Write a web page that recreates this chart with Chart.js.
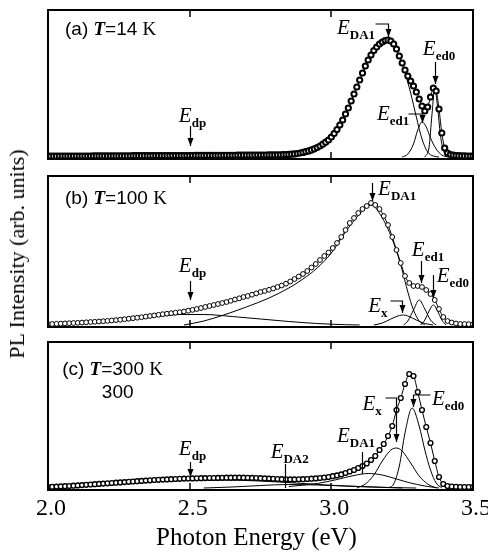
<!DOCTYPE html>
<html><head><meta charset="utf-8">
<script src="https://cdn.jsdelivr.net/npm/chart.js@4.4.1/dist/chart.umd.min.js"></script>
<style>
html,body{margin:0;padding:0;background:#fff;}
#wrap{position:relative;width:488px;height:552px;overflow:hidden;background:#fff;}
.pane{position:absolute;left:0;width:488px;}
#ytitle{position:absolute;left:17px;top:254px;transform:translate(-50%,-50%) rotate(-90deg);font-family:'Liberation Serif','Times New Roman',serif;font-size:22px;white-space:nowrap;color:#000;}
</style></head><body>
<div id="wrap">
<div class="pane" style="top:0;height:170px"><canvas id="ca" width="488" height="170"></canvas></div>
<div class="pane" style="top:170px;height:165px"><canvas id="cb" width="488" height="165"></canvas></div>
<div class="pane" style="top:335px;height:217px"><canvas id="cc" width="488" height="217"></canvas></div>
<div id="ytitle">PL Intensity (arb. units)</div>
</div>
<script>
// ---------- data ----------
const X_MIN = 2.0, X_MAX = 3.5;
const STEP_14K = 0.01;   // sampling of the 14 K spectrum (eV)
const STEP_HI = 0.015;   // sampling of the 100 K / 300 K spectra (eV)
const xTicks = [2.0, 2.5, 3.0, 3.5];
const innerTicks = [2.5, 3.0];
const xTitle = 'Photon Energy (eV)';

// (a) T = 14 K measured PL, 2.00 .. 3.50 eV
const pl14K = [
0.8,0.8,0.8,0.8,0.9,0.9,0.9,0.9,1.0,1.0,
1.0,1.0,1.0,1.0,1.0,1.0,1.1,1.1,1.1,1.1,
1.1,1.1,1.1,1.2,1.2,1.2,1.2,1.2,1.2,1.2,
1.3,1.3,1.3,1.3,1.3,1.3,1.3,1.4,1.4,1.4,
1.4,1.4,1.4,1.4,1.5,1.5,1.5,1.5,1.5,1.5,
1.5,1.5,1.6,1.6,1.6,1.6,1.6,1.6,1.6,1.6,
1.6,1.6,1.7,1.7,1.7,1.7,1.7,1.8,1.8,1.8,
1.8,1.8,1.8,1.9,1.9,1.9,2.0,2.0,2.1,2.1,
2.1,2.1,2.2,2.3,2.4,2.6,2.8,3.1,3.5,4.0,
4.6,5.3,6.1,7.1,8.2,9.5,11.0,12.8,14.8,17.0,
20,23.5,27.5,32,37,43,49,56,63,70,
77,84,91,97,102,106.5,110,113,115,116.5,
117,116,113,108,101,94,87,81,76,71,
65,58,51,46,50,60,69,66,48,24,
9,4,2.5,1.8,1.5,1.3,1.2,1.1,1.0,1.0,1.0
];
// (b) T = 100 K measured PL
const pl100K = [
1,1,1.2,1.4,1.6,1.8,2,2.2,2.4,2.7,
3,3.2,3.5,3.8,4.1,4.5,4.9,5.3,5.8,6.3,
6.8,7.3,7.8,8.4,9,9.6,10.2,10.8,11.3,11.8,
12.3,12.8,13.5,14.3,15.1,16,17,18,19,20,
21,22,23,24.2,25.5,26.7,28,29,30.3,31.6,
33,34,35.2,36.5,38,39.5,41.3,43.5,46,48.5,
51,54,57.5,61,65,69,72.5,77,82,88,
95,102,107,112,116,119,122,120,116,109,
100,88,75,62,49,42,39,39,38,35,
31,25,16,8,4,2.5,1.5,1,1,0.8,
0.8
];
// (c) T = 300 K measured PL
const pl300K = [
1,1.2,1.4,1.6,1.8,2,2.3,2.6,2.9,3.2,
3.5,3.8,4.1,4.4,4.7,5,5.3,5.6,5.9,6.2,
6.5,6.8,7.1,7.4,7.7,8,8.2,8.4,8.6,8.8,
9,9.2,9.4,9.5,9.6,9.7,9.8,9.9,10,10,
10.1,10.2,10.3,10.3,10.4,10.4,10.3,10.2,10.1,10,
9.8,9.6,9.4,9.2,9,8.8,8.7,8.6,8.6,8.7,
8.8,9,9.3,9.6,10,10.5,11,11.8,12.6,13.6,
15,16.5,18,20,22,24.5,28,32,38,44,
52,62,78,90,104,114,112,96,78,61,
45,27,11,4,2,1.5,1.2,1,1,1,
1
];

// fitted components [eV, intensity]
const fit14K_DA1 = [[2.85,2],[2.9,4.5],[2.95,9],[3.0,19],[3.05,42],[3.1,76],[3.15,106],[3.2,115],[3.23,106],[3.26,84],[3.28,64],[3.30,40],[3.32,18],[3.34,5],[3.36,1],[3.38,0]];
const fit14K_ed1 = [[3.25,0],[3.27,3],[3.29,13],[3.305,27],[3.32,35],[3.335,30],[3.35,19],[3.37,8],[3.39,2],[3.41,0]];
const fit14K_ed0 = [[3.33,0],[3.345,10],[3.355,42],[3.365,69],[3.375,50],[3.385,22],[3.395,7],[3.41,0]];

const fit100K_dp  = [[2.0,1],[2.1,2],[2.2,3.5],[2.3,6],[2.4,9],[2.47,10.5],[2.55,10.5],[2.65,8.5],[2.75,6],[2.85,3.5],[2.95,1.5],[3.05,0.3],[3.1,0]];
const fit100K_DA1 = [[2.48,0],[2.55,4],[2.62,10],[2.7,18],[2.78,27],[2.85,37],[2.9,46],[2.95,57],[3.0,72],[3.05,93],[3.1,111],[3.14,120],[3.18,107],[3.22,82],[3.25,55],[3.27,33],[3.29,15],[3.31,4],[3.33,0]];
const fit100K_x   = [[3.15,0],[3.18,2],[3.21,6],[3.24,9.5],[3.255,10],[3.27,9],[3.30,5],[3.33,1.5],[3.36,0]];
const fit100K_ed1 = [[3.255,0],[3.27,4],[3.29,15],[3.31,25],[3.33,16],[3.35,5],[3.37,0]];
const fit100K_ed0 = [[3.315,0],[3.33,5],[3.345,14],[3.36,20],[3.375,14],[3.39,5],[3.405,0]];

const fit300K_dp  = [[2.0,1],[2.15,3],[2.3,5.5],[2.45,7.5],[2.6,8],[2.75,7],[2.9,4.5],[3.05,2],[3.2,0.5],[3.3,0]];
const fit300K_DA2 = [[2.55,0],[2.65,1],[2.75,2.5],[2.85,3.5],[2.95,3],[3.05,2],[3.15,1],[3.25,0]];
const fit300K_DA1 = [[2.85,1.5],[2.95,4.5],[3.02,8.5],[3.08,12.5],[3.13,14.5],[3.18,13],[3.23,9],[3.28,5],[3.33,2],[3.38,0]];
const fit300K_x   = [[3.09,0],[3.12,4],[3.15,13],[3.18,27],[3.21,38],[3.23,40],[3.25,37],[3.28,25],[3.31,12],[3.34,4],[3.37,0]];
const fit300K_ed0 = [[3.20,0],[3.22,4],[3.24,22],[3.26,55],[3.285,80],[3.31,62],[3.33,38],[3.35,18],[3.37,5],[3.39,0]];

// ---------- helpers ----------
const SERIF = "'Liberation Serif','Times New Roman',serif";
const SANS = "'Liberation Sans',Arial,sans-serif";
function toPoints(vals, step){ return vals.map((v,i)=>({x:+(X_MIN+i*step).toFixed(3), y:v})); }
function pairs(arr){ return arr.map(p=>({x:p[0], y:p[1]})); }
function measured(points, r, bw){ return {data:points, showLine:true, borderColor:'#000', borderWidth:1,
  pointRadius:r, pointBorderWidth:bw, pointBorderColor:'#000', pointBackgroundColor:'#fff', cubicInterpolationMode:'monotone'}; }
function fitted(points){ return {data:pairs(points), showLine:true, borderColor:'#000', borderWidth:1,
  pointRadius:0, cubicInterpolationMode:'monotone'}; }

function head(ctx, px, py){
  ctx.beginPath(); ctx.moveTo(px,py); ctx.lineTo(px-3,py-8); ctx.lineTo(px+3,py-8); ctx.closePath(); ctx.fill();
}
function drawE(ctx, px, py, sub, align){
  ctx.textBaseline='alphabetic'; ctx.textAlign='left';
  ctx.font = 'italic 21px '+SERIF; const wE = ctx.measureText('E').width;
  ctx.font = 'bold 13px '+SERIF; const wS = ctx.measureText(sub).width;
  const left = align==='center' ? px-(wE+wS)/2 : px;
  const base = py+7;
  ctx.font = 'italic 21px '+SERIF; ctx.fillText('E', left, base);
  ctx.font = 'bold 13px '+SERIF; ctx.fillText(sub, left+wE, base+5);
}
function drawTitle(ctx, px, py, tag, temp){
  ctx.textBaseline='alphabetic'; ctx.textAlign='left';
  const parts = [[tag+' ', '19px '+SANS], ['T', 'bold italic 19px '+SERIF], ['='+temp+' ', '19px '+SANS], ['K', '19px '+SERIF]];
  let cx = px; const base = py+7;
  parts.forEach(p=>{ ctx.font=p[1]; ctx.fillText(p[0], cx, base); cx += ctx.measureText(p[0]).width; });
}

const framePlugin = {
  id:'frame',
  afterDatasetsDraw(chart){
    const {ctx, chartArea:a, scales:{x}} = chart;
    ctx.save(); ctx.strokeStyle='#000'; ctx.lineWidth=2;
    ctx.strokeRect(a.left, a.top, a.right-a.left, a.bottom-a.top);
    ctx.lineWidth=1.5;
    innerTicks.forEach(t=>{ const px=Math.round(x.getPixelForValue(t));
      ctx.beginPath(); ctx.moveTo(px,a.top); ctx.lineTo(px,a.top+7);
      ctx.moveTo(px,a.bottom); ctx.lineTo(px,a.bottom-7); ctx.stroke(); });
    ctx.restore();
  }
};
// tick labels and title of the shared energy axis, placed with the x scale
const axisLabelPlugin = {
  id:'axisLabels',
  afterDraw(chart){
    const {ctx, chartArea:a, scales:{x}} = chart;
    ctx.save(); ctx.fillStyle='#000'; ctx.textAlign='center'; ctx.textBaseline='middle';
    ctx.font = '24px '+SERIF;
    xTicks.forEach(t=>{ ctx.fillText(t.toFixed(1), x.getPixelForValue(t)+3, a.bottom+19); });
    ctx.font = '25px '+SERIF;
    ctx.fillText(xTitle, (a.left+a.right)/2-4, a.bottom+48);
    ctx.restore();
  }
};
function notesPlugin(items){
  return { id:'notes', afterDatasetsDraw(chart){
    const {ctx, scales:{x,y}} = chart;
    const X=v=>x.getPixelForValue(v), Y=v=>y.getPixelForValue(v);
    ctx.save(); ctx.fillStyle='#000'; ctx.strokeStyle='#000';
    items.forEach(it=>{
      if(it.t==='E') drawE(ctx, X(it.x), Y(it.y), it.sub, it.align);
      else if(it.t==='title') drawTitle(ctx, X(it.x), Y(it.y), it.tag, it.temp);
      else if(it.t==='text'){ ctx.font=it.font; ctx.textBaseline='middle'; ctx.textAlign='left'; ctx.fillText(it.text, X(it.x), Y(it.y)); }
      else if(it.t==='path'){
        ctx.lineWidth=1.2; ctx.beginPath();
        it.pts.forEach((p,i)=>{ const px=Math.round(X(p[0]))+0.5, py=Y(p[1]); i?ctx.lineTo(px,py):ctx.moveTo(px,py); });
        ctx.stroke();
        if(it.arrow){ const p=it.pts[it.pts.length-1]; head(ctx, Math.round(X(p[0]))+0.5, Y(p[1])); }
      }
    });
    ctx.restore();
  }};
}

function makeChart(id, datasets, yMin, yMax, pad, items, showAxis){
  const plugins = [framePlugin, notesPlugin(items)];
  if(showAxis) plugins.push(axisLabelPlugin);
  return new Chart(document.getElementById(id), {
    type:'scatter',
    data:{datasets},
    options:{responsive:false, animation:false, layout:{padding:pad},
      scales:{x:{type:'linear', min:X_MIN, max:X_MAX, display:false},
              y:{type:'linear', min:yMin, max:yMax, display:false}},
      plugins:{legend:{display:false}, tooltip:{enabled:false}}},
    plugins
  });
}

// (a) 14 K
makeChart('ca', [
  measured(toPoints(pl14K, STEP_14K), 2.6, 2),
  fitted(fit14K_DA1), fitted(fit14K_ed1), fitted(fit14K_ed0)
], -2, 147, {top:10, bottom:11, left:48, right:15}, [
  {t:'title', x:2.06, y:129, tag:'(a)', temp:'14'},
  {t:'E', x:3.02, y:130, sub:'DA1'},
  {t:'path', pts:[[3.155,133],[3.20,133],[3.20,120]], arrow:true},
  {t:'E', x:3.323, y:109, sub:'ed0'},
  {t:'path', pts:[[3.366,95],[3.366,73]], arrow:true},
  {t:'E', x:3.161, y:44, sub:'ed1'},
  {t:'path', pts:[[3.27,43],[3.32,43],[3.32,34]], arrow:true},
  {t:'E', x:2.51, y:42, sub:'dp', align:'center'},
  {t:'path', pts:[[2.5,31],[2.5,11]], arrow:true}
]);

// (b) 100 K
makeChart('cb', [
  measured(toPoints(pl100K, STEP_HI), 2.4, 1),
  fitted(fit100K_dp), fitted(fit100K_DA1), fitted(fit100K_x), fitted(fit100K_ed1), fitted(fit100K_ed0)
], -2, 149, {top:6, bottom:8, left:48, right:15}, [
  {t:'title', x:2.06, y:128, tag:'(b)', temp:'100'},
  {t:'E', x:3.165, y:137, sub:'DA1'},
  {t:'path', pts:[[3.143,142],[3.143,124]], arrow:true},
  {t:'E', x:3.284, y:76, sub:'ed1'},
  {t:'path', pts:[[3.316,64],[3.316,42]], arrow:true},
  {t:'E', x:3.372, y:50, sub:'ed0'},
  {t:'path', pts:[[3.358,50],[3.358,27]], arrow:true},
  {t:'E', x:3.13, y:20, sub:'x'},
  {t:'path', pts:[[3.207,24],[3.249,24],[3.249,12]], arrow:true},
  {t:'E', x:2.51, y:60, sub:'dp', align:'center'},
  {t:'path', pts:[[2.5,44],[2.5,25]], arrow:true}
]);

// (c) 300 K
makeChart('cc', [
  measured(toPoints(pl300K, STEP_HI), 2.4, 1.4),
  fitted(fit300K_dp), fitted(fit300K_DA2), fitted(fit300K_DA1), fitted(fit300K_x), fitted(fit300K_ed0)
], -2, 146, {top:7, bottom:62, left:48, right:15}, [
  {t:'title', x:2.05, y:120, tag:'(c)', temp:'300'},
  {t:'text', x:2.19, y:95, text:'300', font:'19px '+SANS},
  {t:'E', x:2.51, y:40, sub:'dp', align:'center'},
  {t:'path', pts:[[2.5,26],[2.5,11]], arrow:true},
  {t:'E', x:2.853, y:37, sub:'DA2', align:'center'},
  {t:'path', pts:[[2.835,24],[2.835,0]]},
  {t:'E', x:3.02, y:53, sub:'DA1'},
  {t:'path', pts:[[3.107,36],[3.107,14]]},
  {t:'E', x:3.11, y:85, sub:'x'},
  {t:'path', pts:[[3.19,90],[3.228,90],[3.228,46]], arrow:true},
  {t:'E', x:3.355, y:90, sub:'ed0'},
  {t:'path', pts:[[3.348,93],[3.288,93],[3.288,81]], arrow:true}
], true);
</script>
</body></html>
